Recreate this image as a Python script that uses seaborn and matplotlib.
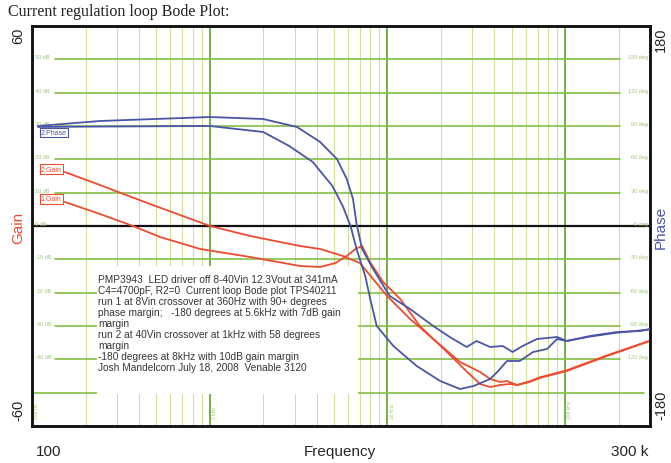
import matplotlib
matplotlib.use('Agg')

import matplotlib.pyplot as plt
import matplotlib.patches as patches
import seaborn as sns
import pandas as pd

# run 1 (8Vin) gain, dB
gain1_freq = [153, 241, 370, 525, 883, 1690, 3220, 4180, 5100, 5900, 6600, 7200, 7980, 9450,
              11800, 15200, 21600, 28100, 33200, 37800, 43000, 49000, 53600, 63000, 72000,
              102000, 172000, 300000]
gain1 = [7.2, 3.6, 0.0, -3.3, -6.9, -9.3, -12.0, -12.3, -11.1, -9.0, -6.9, -6.0, -10.8, -16.8,
         -21.9, -30.0, -37.8, -43.8, -47.4, -48.3, -47.7, -47.4, -47.7, -46.6, -45.4,
         -43.3, -38.8, -34.4]

# run 2 (40Vin) gain, dB
gain2_freq = [153, 241, 461, 1004, 1690, 3220, 4180, 5620, 7000, 7700, 9950, 13400, 18100,
              25600, 33200, 37800, 43000, 47000, 53600, 63000, 72000, 102000, 172000, 300000]
gain2 = [16.2, 12.3, 6.6, 0.0, -3.0, -6.0, -6.9, -9.0, -11.1, -13.8, -21.0, -27.9, -33.9,
         -40.8, -43.8, -45.9, -46.8, -46.5, -47.7, -46.8, -45.6, -43.5, -39.0, -34.5]

# phase curves, degrees
phaseA_freq = [108, 241, 1004, 2000, 3100, 4180, 5200, 5900, 6400, 6700, 7200, 8300, 10300,
               13400, 18100, 22400, 27900, 31700, 37800, 44500, 50600, 57600, 69400, 90200,
               102000, 138000, 196000, 266000, 300000]
phaseA = [90, 94.5, 98.1, 96.3, 89.1, 75.6, 60.3, 42.3, 24.3, 2, -20.7, -38.7, -63,
          -74.7, -90, -99.9, -108.9, -103.5, -108.9, -108, -113.4, -108, -101.7, -99.9,
          -103.5, -99, -95.4, -94.5, -92.7]

phaseB_freq = [108, 241, 1004, 2000, 2800, 3800, 4900, 5600, 6200, 6700, 7500, 8000, 8700,
               10800, 14600, 19800, 25600, 30500, 37800, 42000, 47000, 55500, 66000, 79000,
               90000, 102000, 138000, 196000, 266000, 300000]
phaseB = [89.1, 89.5, 90, 84.6, 72, 57.6, 36, 18, 0, -20.7, -45, -65.7, -90,
          -108, -126, -139.5, -146.7, -144, -137.7, -130.5, -121.5, -121.5, -113.4, -110.7,
          -101.7, -103.5, -99.5, -96, -94, -93]

gain_ticks = [50, 40, 30, 20, 10, 0, -10, -20, -30, -40]
phase_ticks = [150, 120, 90, 60, 30, 0, -30, -60, -90, -120]
decades = [100, 1000, 10000, 100000]
decade_labels = ['100 Hz', '1 kHz', '10 kHz', '100 kHz']

note = ("PMP3943  LED driver off 8-40Vin 12.3Vout at 341mA\n"
        "C4=4700pF, R2=0  Current loop Bode plot TPS40211\n"
        "run 1 at 8Vin crossover at 360Hz with 90+ degrees\n"
        "phase margin;   -180 degrees at 5.6kHz with 7dB gain\n"
        "margin\n"
        "run 2 at 40Vin crossover at 1kHz with 58 degrees\n"
        "margin\n"
        "-180 degrees at 8kHz with 10dB gain margin\n"
        "Josh Mandelcorn July 18, 2008  Venable 3120")

RED = '#ee4b30'
BLUE = '#4a55a6'
GRID = '#84bf45'
MINOR = '#d0e09c'
LABEL = '#9cc77a'

sns.set_style('white')
plt.rcParams['font.family'] = ['Liberation Sans', 'DejaVu Sans']

gain_df = pd.concat([
    pd.DataFrame({'freq': gain1_freq, 'gain': gain1, 'run': '1.Gain'}),
    pd.DataFrame({'freq': gain2_freq, 'gain': gain2, 'run': '2.Gain'}),
])
phase_df = pd.concat([
    pd.DataFrame({'freq': phaseA_freq, 'phase': phaseA, 'run': '1.Phase'}),
    pd.DataFrame({'freq': phaseB_freq, 'phase': phaseB, 'run': '2.Phase'}),
])

fig = plt.figure(figsize=(6.71, 4.64), dpi=100)
ax = fig.add_axes([32 / 671, 1 - 427 / 464, 618 / 671, 400 / 464])
ax.set_xscale('log')
ax.set_xlim(100, 300000)
ax.set_ylim(-60, 60)

# grid
for d in decades:
    for k in range(2, 10):
        f = d * k
        if f < 300000:
            ax.axvline(f, color=MINOR, lw=0.8, zorder=0.5)
for d in decades[1:]:
    ax.axvline(d, color='#74b043', lw=1.4, zorder=0.6)
for g in [50, 40, 30, 20, 10, -10, -20, -30, -40]:
    ax.axhline(g, xmin=0.037, xmax=0.951, color=GRID, lw=1.2, zorder=0.7)
ax.axhline(-50, xmin=0.0, xmax=0.99, color=GRID, lw=1.2, zorder=0.7)
ax.axhline(0, color='#111111', lw=1.6, zorder=0.8)

ytr = ax.get_yaxis_transform()
for g in gain_ticks:
    ax.text(0.005, g, f'{g} dB', transform=ytr, fontsize=4, color=LABEL,
            ha='left', va='bottom', zorder=1)
for p in phase_ticks:
    ax.text(0.996, p / 3, f'{p} deg', transform=ytr, fontsize=4, color=LABEL,
            ha='right', va='bottom', zorder=1)
xtr = ax.get_xaxis_transform()
for d, lab in zip(decades, decade_labels):
    ax.text(d * 1.03, 0.02, lab, transform=xtr, fontsize=3.5, color=LABEL,
            rotation=90, ha='left', va='bottom', zorder=1)

# note box
ax.add_patch(patches.Rectangle((0.105, 0.08), 0.4225, 0.32, transform=ax.transAxes,
                               facecolor='white', edgecolor='none', zorder=2))
ax.text(0.107, 0.38, note, transform=ax.transAxes, fontsize=7.3, color='#363636',
        ha='left', va='top', linespacing=1.12, zorder=2.5)

sns.lineplot(data=gain_df, x='freq', y='gain', hue='run', palette={'1.Gain': RED, '2.Gain': RED},
             estimator=None, sort=False, lw=1.3, legend=False, ax=ax, zorder=3)

ax2 = ax.twinx()
ax2.set_ylim(-180, 180)
sns.lineplot(data=phase_df, x='freq', y='phase', hue='run',
             palette={'1.Phase': BLUE, '2.Phase': BLUE},
             estimator=None, sort=False, lw=1.3, legend=False, ax=ax2, zorder=3)
ax2.set_xlim(100, 300000)

for a in (ax, ax2):
    a.set_xticks([])
    a.set_yticks([])
    a.set_xticks([], minor=True)
    a.set_yticks([], minor=True)
    a.set_xlabel('')
    a.set_ylabel('')
    for s in a.spines.values():
        s.set_color('#111111')
        s.set_linewidth(1.8)

# series tags
tag = dict(fontsize=5, ha='left', va='center', zorder=5)
ax.text(0.014, 0.733, '2.Phase', transform=ax.transAxes, color=BLUE,
        bbox=dict(boxstyle='square,pad=0.15', fc='white', ec=BLUE, lw=0.8), **tag)
ax.text(0.014, 0.6425, '2.Gain', transform=ax.transAxes, color=RED,
        bbox=dict(boxstyle='square,pad=0.15', fc='white', ec=RED, lw=0.8), **tag)
ax.text(0.014, 0.5675, '1.Gain', transform=ax.transAxes, color=RED,
        bbox=dict(boxstyle='square,pad=0.15', fc='white', ec=RED, lw=0.8), **tag)

# outer labels
fig.text(8 / 671, 1 - 12 / 464, 'Current regulation loop Bode Plot:', family='Liberation Serif',
         fontsize=11.5, color='#222222', ha='left', va='center')
fig.text(18 / 671, 1 - 36 / 464, '60', rotation=90, fontsize=10.5, ha='center', va='center')
fig.text(18 / 671, 1 - 410 / 464, '-60', rotation=90, fontsize=10.5, ha='center', va='center')
fig.text(661 / 671, 1 - 40 / 464, '180', rotation=90, fontsize=10.5, ha='center', va='center')
fig.text(661 / 671, 1 - 405 / 464, '-180', rotation=90, fontsize=10.5, ha='center', va='center')
fig.text(18 / 671, 1 - 228 / 464, 'Gain', rotation=90, fontsize=11, color=RED,
         ha='center', va='center')
fig.text(661 / 671, 1 - 227 / 464, 'Phase', rotation=90, fontsize=11, color=BLUE,
         ha='center', va='center')
fig.text(36 / 671, 1 - 452 / 464, '100', fontsize=11, ha='left', va='center')
fig.text(340 / 671, 1 - 452 / 464, 'Frequency', fontsize=11, ha='center', va='center')
fig.text(648 / 671, 1 - 452 / 464, '300 k', fontsize=11, ha='right', va='center')

fig.savefig('out.png', dpi=100)
